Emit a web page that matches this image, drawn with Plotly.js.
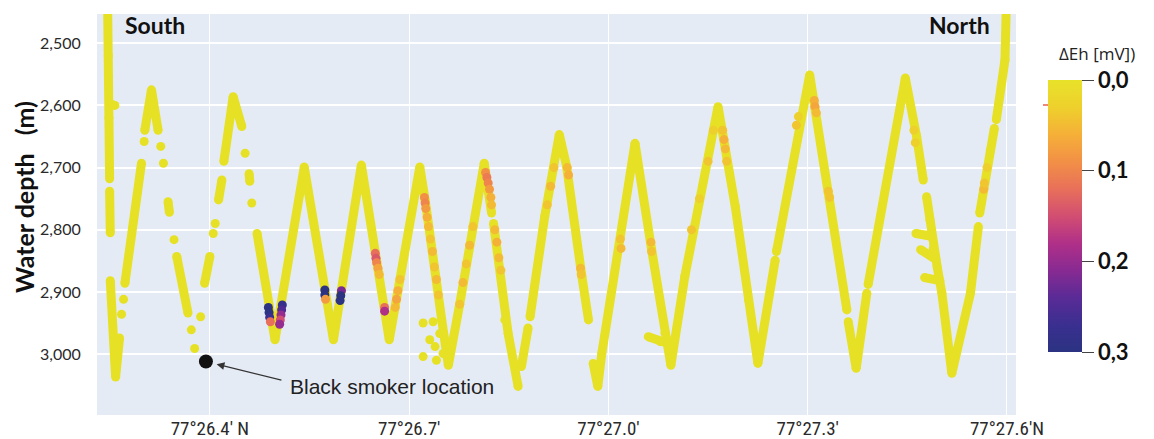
<!DOCTYPE html>
<html>
<head>
<meta charset="utf-8">
<script src="https://cdn.plot.ly/plotly-3.0.1.min.js"></script>
<style>html,body{margin:0;padding:0;background:#fff;}#chart{width:1154px;height:439px;}</style>
</head>
<body>
<div id="chart"></div>
<script>
// ---- data (latitude in minutes past 77°, depth in m) ----
const pathLat = [26.246,26.247,26.248,26.249,null,
  26.249,26.250,null,
  26.250,26.258,26.264,null,
  26.272,26.297,null,
  26.302,26.312,26.322,null,
  26.337,26.339,null,
  26.350,26.367,null,
  26.392,26.400,null,
  26.413,26.418,null,
  26.421,26.435,26.448,null,
  26.459,26.460,null,
  26.471,26.498,26.542,26.586,26.628,26.670,26.716,26.724,26.749,26.759,26.776,26.813,26.824,null,
  26.827,26.844,26.849,26.864,null,
  26.869,26.879,null,
  26.882,26.904,26.926,26.937,26.960,26.970,null,
  26.977,26.984,26.990,27.040,27.065,27.085,27.094,27.115,27.165,27.191,27.211,27.225,27.251,null,
  27.060,27.078,27.090,null,
  27.253,27.303,27.331,27.359,null,
  27.361,27.373,27.389,null,
  27.391,27.447,27.464,27.474,null,
  27.479,27.484,27.485,27.489,27.495,27.502,27.517,27.545,27.557,null,
  27.463,27.484,null,
  27.470,27.493,null,
  27.476,27.499,null,
  27.559,27.575,27.581,null,
  27.584,27.597,27.599];
const pathDepth = [2440,2520,2620,2718,null,
  2738,2805,null,
  2882,3037,2974,null,
  2886,2693,null,
  2640,2575,2640,null,
  2755,2772,null,
  2843,2934,null,
  2886,2843,null,
  2752,2720,null,
  2690,2586,2634,null,
  2710,2722,null,
  2806,2977,2699,2977,2696,2977,2699,2752,2945,3018,2920,2693,2773,null,
  2790,2945,2967,3052,null,
  3020,2958,null,
  2940,2779,2647,2698,2875,2945,null,
  3015,3052,2999,2661,2832,2966,3018,2875,2602,2763,2913,3015,2849,null,
  2972,2980,2983,null,
  2835,2551,2741,2929,null,
  2948,3023,2902,null,
  2888,2556,2650,2720,null,
  2747,2784,2806,2830,2860,2902,3031,2902,2795,null,
  2806,2810,null,
  2832,2848,null,
  2877,2882,null,
  2773,2672,2637,null,
  2623,2527,2440];

// isolated sparse samples
const dotLat = [26.254,26.257,26.267,26.270,26.301,26.326,26.330,26.346,26.372,26.377,26.386,26.405,26.408,
  26.453,26.463,26.721,26.736,26.731,26.746,26.739,26.751,26.721,26.741];
const dotDepth = [2599,2600,2936,2912,2658,2666,2693,2816,2961,2991,2940,2806,2790,
  2677,2757,2950,2948,2977,2967,2988,2999,3004,3010];

// samples with a ΔEh anomaly (mV, negative)
const ehLat = [26.488,26.489,26.490,26.491,26.509,26.508,26.507,26.506,26.505,
  26.573,26.573,26.574,26.598,26.597,26.596,
  26.649,26.650,26.651,26.653,26.655,26.663,26.663,
  26.679,26.681,26.683,26.686,
  26.723,26.724,26.725,26.727,26.729,26.732,26.735,26.738,26.741,26.744,
  26.776,26.781,26.786,26.791,26.796,
  26.815,26.817,26.819,26.821,26.823,26.824,26.829,26.832,26.835,26.838,
  26.908,26.913,26.918,26.938,26.940,26.958,26.959,
  27.018,27.019,27.064,27.065,
  27.125,27.137,27.150,27.158,27.172,27.174,27.176,27.178,
  27.283,27.286,27.310,27.311,27.313,27.331,27.333,
  27.460,27.462,27.565,27.566,27.570];
const ehDepth = [2925,2933,2941,2948,2921,2929,2937,2945,2952,
  2897,2905,2912,2898,2906,2914,
  2838,2846,2853,2862,2872,2925,2931,
  2925,2912,2898,2880,
  2748,2757,2766,2780,2795,2815,2835,2860,2880,2905,
  2920,2885,2855,2825,2795,
  2708,2716,2725,2735,2748,2760,2800,2820,2845,2865,
  2760,2730,2700,2700,2712,2862,2872,
  2815,2830,2820,2835,
  2800,2750,2690,2640,2640,2655,2670,2690,
  2632,2618,2592,2602,2612,2738,2748,
  2640,2660,2735,2725,2700];
const ehValue = [-0.30,-0.30,-0.27,-0.12,-0.28,-0.25,-0.20,-0.15,-0.20,
  -0.30,-0.30,-0.08,-0.22,-0.30,-0.30,
  -0.12,-0.14,-0.10,-0.07,-0.05,-0.12,-0.18,
  -0.05,-0.07,-0.06,-0.04,
  -0.09,-0.10,-0.08,-0.06,-0.05,-0.04,-0.05,-0.04,-0.05,-0.04,
  -0.04,-0.05,-0.04,-0.05,-0.04,
  -0.09,-0.11,-0.10,-0.08,-0.06,-0.05,-0.05,-0.06,-0.05,-0.04,
  -0.04,-0.05,-0.04,-0.05,-0.06,-0.05,-0.04,
  -0.04,-0.05,-0.05,-0.04,
  -0.04,-0.03,-0.04,-0.03,-0.04,-0.06,-0.05,-0.04,
  -0.04,-0.03,-0.06,-0.07,-0.05,-0.04,-0.04,
  -0.03,-0.03,-0.05,-0.04,-0.03];

const smokerLat = [26.394];
const smokerDepth = [3012];

const xTickVals = [26.4, 26.7, 27.0, 27.3, 27.6];
const xTickText = ["77°26.4′ N", "77°26.7′", "77°27.0′", "77°27.3′", "77°27.6′N"];
const yTickVals = [2500, 2600, 2700, 2800, 2900, 3000];
const yTickText = ["2,500", "2,600", "2,700", "2,800", "2,900", "3,000"];
const cbTickVals = [0, -0.1, -0.2, -0.3];
const cbTickText = ["0,0", "0,1", "0,2", "0,3"];

// ---- styling ----
const YELLOW = '#e6e125';
const scale = [[0,'#2b3382'],[0.1,'#3a2f8f'],[0.2,'#5a2b96'],[0.3,'#882a92'],[0.4,'#b03088'],
  [0.5,'#d24e72'],[0.6,'#e8705a'],[0.7,'#f29046'],[0.8,'#f5b038'],[0.9,'#eed02c'],[1,'#e8e22a']];
const BOLD = {family: 'Lato, "Open Sans", sans-serif', color: '#111', weight: 'bold'};

const traces = [
  {x: pathLat, y: pathDepth, type: 'scatter', mode: 'lines+markers', connectgaps: false,
   line: {color: YELLOW, width: 9}, marker: {color: YELLOW, size: 9}, hoverinfo: 'skip', showlegend: false},
  {x: dotLat, y: dotDepth, type: 'scatter', mode: 'markers',
   marker: {color: YELLOW, size: 9}, hoverinfo: 'skip', showlegend: false},
  {x: ehLat, y: ehDepth, type: 'scatter', mode: 'markers', showlegend: false,
   marker: {color: ehValue, size: 9, cmin: -0.3, cmax: 0, colorscale: scale, showscale: true,
     colorbar: {x: 1.0348, xanchor: 'left', y: 0.496, yanchor: 'middle', len: 272, lenmode: 'pixels',
       thickness: 34, thicknessmode: 'pixels', xpad: 0, ypad: 0, outlinewidth: 0,
       tickvals: cbTickVals, ticktext: cbTickText, ticks: 'outside', ticklen: 12, tickwidth: 1, tickcolor: '#444',
       tickfont: Object.assign({}, BOLD, {size: 22})}}},
  {x: smokerLat, y: smokerDepth, type: 'scatter', mode: 'markers',
   marker: {color: '#111', size: 14}, hoverinfo: 'skip', showlegend: false}
];

const layout = {
  width: 1154, height: 439,
  margin: {l: 97, r: 138, t: 14, b: 24},
  paper_bgcolor: '#ffffff', plot_bgcolor: '#e5ebf5',
  showlegend: false,
  xaxis: {range: [26.230, 27.6136], tickvals: xTickVals, ticktext: xTickText,
    showgrid: true, gridcolor: '#ffffff', gridwidth: 1, zeroline: false, showline: false, ticks: '',
    tickfont: {family: '"Liberation Sans Narrow", "Arial Narrow", "Roboto Condensed", Lato, sans-serif', size: 19, color: '#2a2a2a'}},
  yaxis: {range: [3098, 2453], tickvals: yTickVals, ticktext: yTickText,
    showgrid: true, gridcolor: '#ffffff', gridwidth: 2, zeroline: false, showline: false,
    ticks: 'outside', ticklen: 12, tickcolor: 'rgba(0,0,0,0)',
    tickfont: {family: 'Lato, "Open Sans", sans-serif', size: 16, color: '#2a2a2a'}},
  annotations: [
    {xref: 'paper', yref: 'paper', x: -0.0794, xanchor: 'center', y: 0.5436, yanchor: 'middle',
     text: 'Water depth\u00a0\u00a0\u00a0(m)', textangle: -90,
     showarrow: false, font: Object.assign({}, BOLD, {size: 25})},
    {xref: 'paper', yref: 'paper', x: 0.0631, xanchor: 'center', y: 0.9726, yanchor: 'middle', text: 'South', showarrow: false,
     font: Object.assign({}, BOLD, {size: 23})},
    {xref: 'paper', yref: 'paper', x: 0.938, xanchor: 'center', y: 0.9726, yanchor: 'middle', text: 'North', showarrow: false,
     font: Object.assign({}, BOLD, {size: 23})},
    {xref: 'paper', yref: 'paper', x: 1.0881, xanchor: 'center', y: 0.9027, yanchor: 'middle', text: 'ΔEh [mV])', showarrow: false,
     font: {family: '"Open Sans", Lato, sans-serif', size: 17, color: '#222'}},
    {xref: 'x', yref: 'y', x: smokerLat[0], y: smokerDepth[0], text: '', showarrow: true,
     ax: 77, ay: 19, axref: 'pixel', ayref: 'pixel', arrowhead: 2, arrowsize: 1.3, arrowwidth: 1.2,
     arrowcolor: '#333', standoff: 11},
    {xref: 'paper', yref: 'paper', x: (288-97)/919, xanchor: 'left', y: (415-386)/401, yanchor: 'middle',
     text: 'Black smoker location', showarrow: false,
     font: {family: '"Liberation Sans", Arial, sans-serif', size: 21, color: '#222'}}
  ],
  shapes: [
    {type: 'line', xref: 'paper', yref: 'paper', x0: (1043-97)/919, x1: (1048-97)/919,
     y0: (415-105)/401, y1: (415-105)/401, line: {color: '#e8604a', width: 1.5}}
  ]
};

Plotly.newPlot('chart', traces, layout, {displayModeBar: false, staticPlot: true});
</script>
</body>
</html>
